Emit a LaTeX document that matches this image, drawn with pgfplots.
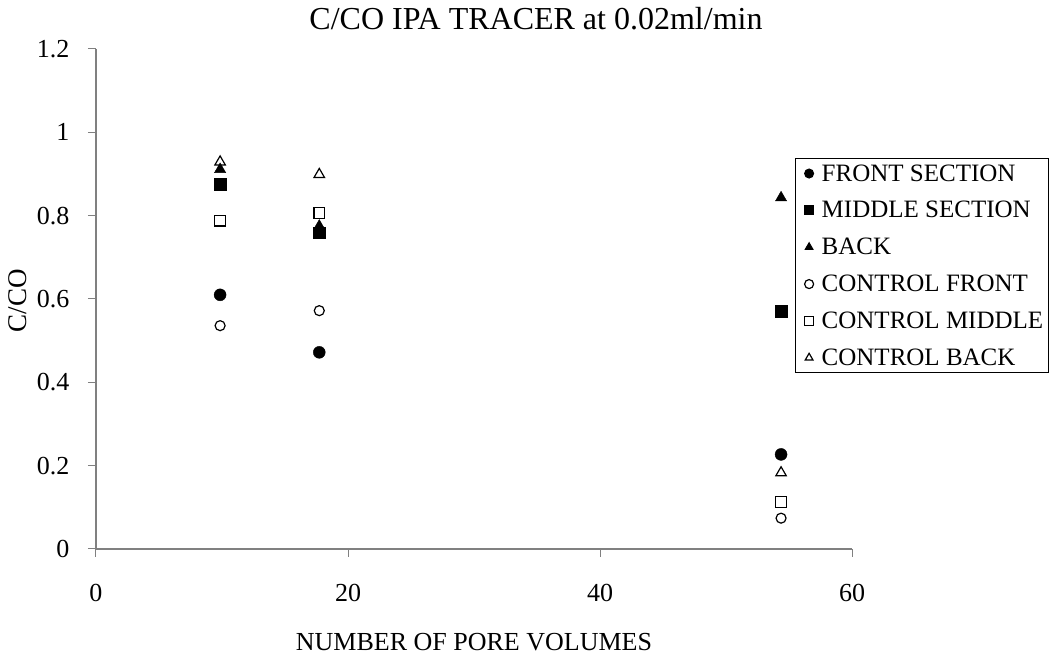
\documentclass[border=0pt]{standalone}
\usepackage{pgfplots}
\pgfplotsset{compat=1.18}
\usepackage{fontspec}
\setmainfont{Liberation Serif}
\begin{document}
\begin{tikzpicture}
\begin{axis}[
  name=ax, at={(0,0)}, anchor=south west,
  scale only axis, width=756pt, height=500pt,
  xmin=0, xmax=60, ymin=0, ymax=1.2,
  axis x line*=bottom, axis y line*=left,
  axis line style={draw=black!50, line width=1.3pt},
  xtick={0,20,40,60}, ytick={0,0.2,0.4,0.6,0.8,1,1.2},
  yticklabels={0,0.2,0.4,0.6,0.8,1,1.2},
  tick align=outside, major tick length=8pt,
  tick style={draw=black!50, line width=1pt},
  /pgf/number format/assume math mode=true,
  ticklabel style={font=\fontsize{26}{31}\selectfont},
  xticklabel style={yshift=-24pt},
  yticklabel style={xshift=-15pt},
  clip=false,
  legend style={at={(0.9246,0.782)}, anchor=north west, draw=black, line width=1pt,
    font=\fontsize{25}{30}\selectfont, inner xsep=3pt, inner ysep=4pt,
    row sep=14.8pt, nodes={inner sep=2pt}},
  legend cell align=left,
  legend image code/.code={\path (0pt,0pt) (20pt,0pt); \draw[#1,mark size=4.5pt] plot coordinates {(10pt,0pt)};},
]
\addplot[only marks, mark=*, mark size=6pt, draw=black, fill=black] coordinates {(9.85,0.610) (17.72,0.472) (54.37,0.227)};
\addlegendentry{FRONT SECTION}
\addplot[only marks, mark=square*, mark size=5.8pt, draw=black, fill=black] coordinates {(9.85,0.875) (17.72,0.759) (54.37,0.571)};
\addlegendentry{MIDDLE SECTION}
\addplot[only marks, mark=triangle*, mark size=6.5pt, draw=black, fill=black] coordinates {(9.85,0.911) (17.72,0.775) (54.37,0.843)};
\addlegendentry{BACK}
\addplot[only marks, mark=o, mark size=5pt, draw=black, line width=1.2pt] coordinates {(9.85,0.536) (17.72,0.572) (54.37,0.074)};
\addlegendentry{CONTROL FRONT}
\addplot[only marks, mark=square, mark size=5.3pt, draw=black, line width=1.2pt] coordinates {(9.85,0.788) (17.72,0.806) (54.37,0.113)};
\addlegendentry{CONTROL MIDDLE}
\addplot[only marks, mark=triangle, mark size=6pt, draw=black, line width=1.2pt] coordinates {(9.85,0.929) (17.72,0.899) (54.37,0.183)};
\addlegendentry{CONTROL BACK}
\end{axis}
\node[font=\fontsize{32}{38}\selectfont] at ([xshift=440pt,yshift=530pt]ax.south west) {C/CO IPA TRACER at 0.02ml/min};
\node[font=\fontsize{26}{31}\selectfont] at ([xshift=378pt,yshift=-93pt]ax.south west) {NUMBER OF PORE VOLUMES};
\node[font=\fontsize{27}{32}\selectfont, rotate=90] at ([xshift=-78pt,yshift=248pt]ax.south west) {C/CO};
\useasboundingbox ([xshift=-96pt,yshift=-111pt]ax.south west) rectangle ([xshift=955pt,yshift=549pt]ax.south west);
\end{tikzpicture}
\end{document}
